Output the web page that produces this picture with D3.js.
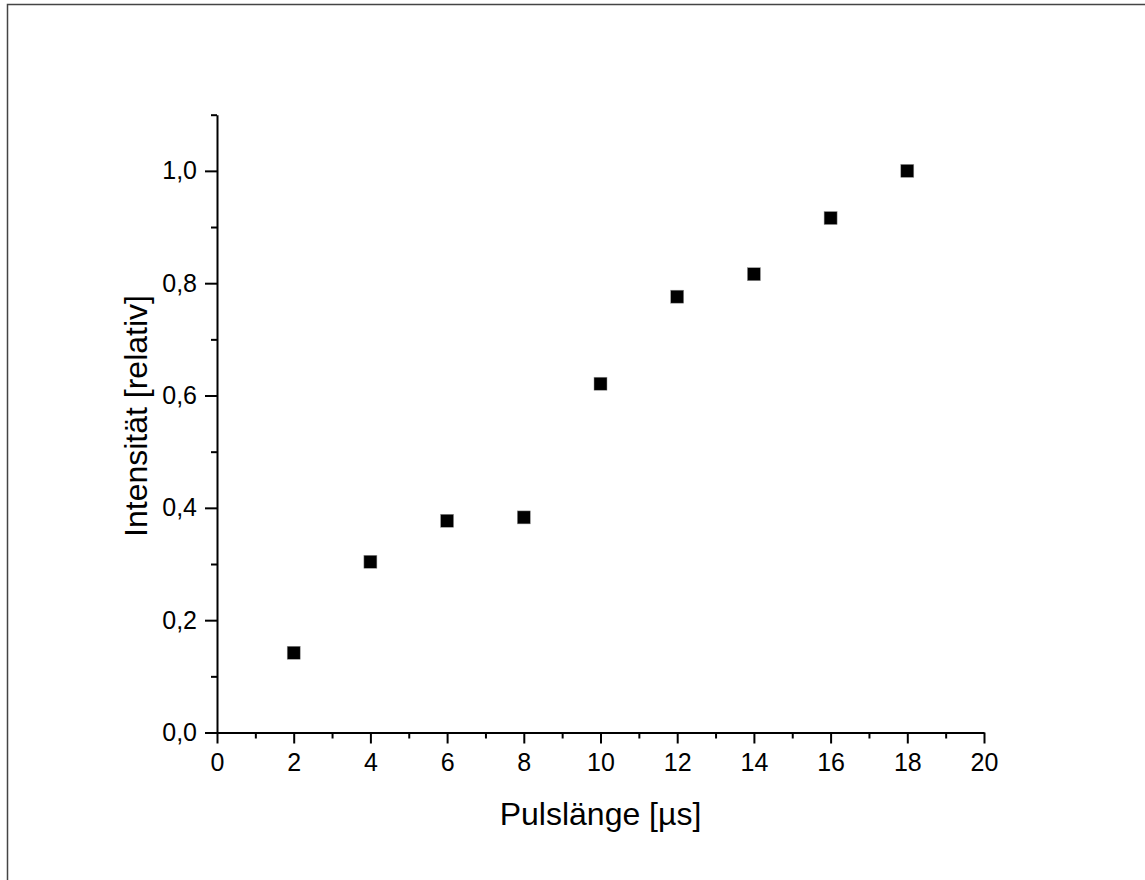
<!DOCTYPE html>
<html lang="de">
<head>
<meta charset="UTF-8">
<title>Intensität vs Pulslänge</title>
<script src="https://d3js.org/d3.v7.min.js"></script>
<style>
  body { margin: 0; background: #fff; }
  text { font-family: Arial, "Liberation Sans", sans-serif; fill: #000; }
  .tick line, .domain { stroke: #000; stroke-width: 2px; }
  .tick text { font-size: 25px; }
</style>
</head>
<body>
<div id="chart"></div>
<script>
// data
var pulseLength = [2, 4, 6, 8, 10, 12, 14, 16, 18];
var intensity   = [0.142, 0.304, 0.377, 0.383, 0.621, 0.776, 0.816, 0.916, 1.0];
var xMajor = [0, 2, 4, 6, 8, 10, 12, 14, 16, 18, 20];
var xMinor = [1, 3, 5, 7, 9, 11, 13, 15, 17, 19];
var yMajor = [0, 0.2, 0.4, 0.6, 0.8, 1.0];
var yMinor = [0.1, 0.3, 0.5, 0.7, 0.9, 1.1];

var W = 1145, H = 880;
var plotLeft = 217, plotRight = 984, plotTop = 114.7, plotBottom = 732.5;

var svg = d3.select("#chart").append("svg")
    .attr("width", W).attr("height", H);

// frame (only top and left edges show in the picture)
svg.append("rect")
    .attr("x", 7.5).attr("y", 4.5)
    .attr("width", 1300).attr("height", 1000)
    .attr("fill", "none").attr("stroke", "#444").attr("stroke-width", 1.5);

var x = d3.scaleLinear().domain([0, 20]).range([plotLeft, plotRight]);
var y = d3.scaleLinear().domain([0, 1.1]).range([plotBottom, plotTop]);

var fmt = function(d) { return d3.format(".1f")(d).replace(".", ","); };

// minor ticks
svg.append("g")
    .attr("transform", "translate(0," + plotBottom + ")")
    .call(d3.axisBottom(x).tickValues(xMinor).tickSize(6).tickSizeOuter(0).tickFormat(""))
    .call(function(g) { g.select(".domain").remove(); });
svg.append("g")
    .attr("transform", "translate(" + plotLeft + ",0)")
    .call(d3.axisLeft(y).tickValues(yMinor).tickSize(6).tickSizeOuter(0).tickFormat(""))
    .call(function(g) { g.select(".domain").remove(); });

// major ticks + axis lines
svg.append("g")
    .attr("transform", "translate(0," + plotBottom + ")")
    .call(d3.axisBottom(x).tickValues(xMajor).tickSize(11).tickSizeOuter(0).tickPadding(10));
svg.append("g")
    .attr("transform", "translate(" + plotLeft + ",0)")
    .call(d3.axisLeft(y).tickValues(yMajor).tickSize(12).tickSizeOuter(0).tickPadding(8).tickFormat(fmt));

// points
svg.append("g").selectAll("rect")
    .data(pulseLength)
    .join("rect")
      .attr("x", function(d) { return x(d) - 6.5; })
      .attr("y", function(d, i) { return y(intensity[i]) - 6.5; })
      .attr("width", 13).attr("height", 13)
      .attr("fill", "#000")
      .attr("stroke", "#999").attr("stroke-width", 0.5);

// axis titles
svg.append("text")
    .attr("x", (plotLeft + plotRight) / 2).attr("y", 825)
    .attr("text-anchor", "middle")
    .style("font-size", "32px")
    .text("Pulslänge [µs]");

svg.append("text")
    .attr("transform", "translate(147,416) rotate(-90)")
    .attr("text-anchor", "middle")
    .style("font-size", "32px")
    .text("Intensität [relativ]");
</script>
</body>
</html>
